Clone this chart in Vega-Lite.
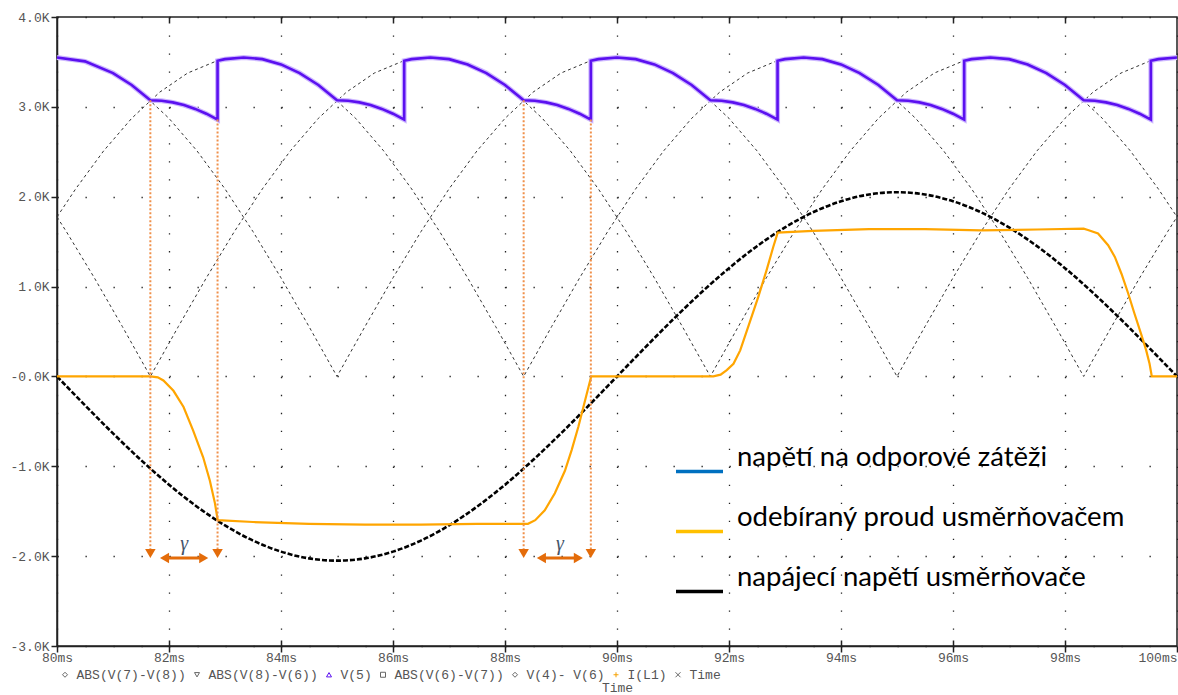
{
  "$schema": "https://vega.github.io/schema/vega-lite/v6.json",
  "width": 1120,
  "height": 629,
  "autosize": {"type": "none"},
  "padding": {"left": 57, "top": 17, "right": 1, "bottom": 49},
  "background": "white",
  "config": {
    "view": {"stroke": "#222", "strokeWidth": 1.5},
    "axis": {"domainColor": "#222", "tickColor": "#222"}
  },
  "resolve": {
    "scale": {"color": "independent", "shape": "independent"},
    "axis": {"x": "independent", "y": "independent"}
  },
  "datasets": {
    "supply": [
      {"t": 80, "v": 0}, {"t": 80.5, "v": -0.3207}, {"t": 81, "v": -0.6335}, {"t": 81.5, "v": -0.9307},
      {"t": 82, "v": -1.205}, {"t": 82.5, "v": -1.4496}, {"t": 83, "v": -1.6585}, {"t": 83.5, "v": -1.8266},
      {"t": 84, "v": -1.9497}, {"t": 84.5, "v": -2.0248}, {"t": 85, "v": -2.05}, {"t": 85.5, "v": -2.0248},
      {"t": 86, "v": -1.9497}, {"t": 86.5, "v": -1.8266}, {"t": 87, "v": -1.6585}, {"t": 87.5, "v": -1.4496},
      {"t": 88, "v": -1.205}, {"t": 88.5, "v": -0.9307}, {"t": 89, "v": -0.6335}, {"t": 89.5, "v": -0.3207},
      {"t": 90, "v": 0}, {"t": 90.5, "v": 0.3207}, {"t": 91, "v": 0.6335}, {"t": 91.5, "v": 0.9307},
      {"t": 92, "v": 1.205}, {"t": 92.5, "v": 1.4496}, {"t": 93, "v": 1.6585}, {"t": 93.5, "v": 1.8266},
      {"t": 94, "v": 1.9497}, {"t": 94.5, "v": 2.0248}, {"t": 95, "v": 2.05}, {"t": 95.5, "v": 2.0248},
      {"t": 96, "v": 1.9497}, {"t": 96.5, "v": 1.8266}, {"t": 97, "v": 1.6585}, {"t": 97.5, "v": 1.4496},
      {"t": 98, "v": 1.205}, {"t": 98.5, "v": 0.9307}, {"t": 99, "v": 0.6335}, {"t": 99.5, "v": 0.3207},
      {"t": 100, "v": 0}
    ],
    "phases": [
      {"s": "a", "t": 80, "v": 3.55}, {"s": "a", "t": 80.5, "v": 3.5063}, {"s": "a", "t": 81, "v": 3.3763}, {"s": "a", "t": 81.5, "v": 3.1631},
      {"s": "a", "t": 82, "v": 2.872}, {"s": "a", "t": 82.5, "v": 2.5102}, {"s": "a", "t": 83, "v": 2.0867}, {"s": "a", "t": 83.5, "v": 1.6117},
      {"s": "a", "t": 84, "v": 1.097}, {"s": "a", "t": 84.5, "v": 0.5553}, {"s": "a", "t": 85, "v": 0}, {"s": "a", "t": 85.5, "v": 0.5553},
      {"s": "a", "t": 86, "v": 1.097}, {"s": "a", "t": 86.5, "v": 1.6117}, {"s": "a", "t": 87, "v": 2.0867}, {"s": "a", "t": 87.5, "v": 2.5102},
      {"s": "a", "t": 88, "v": 2.872}, {"s": "a", "t": 88.5, "v": 3.1631}, {"s": "a", "t": 89, "v": 3.3763}, {"s": "a", "t": 89.5, "v": 3.5063},
      {"s": "a", "t": 90, "v": 3.55}, {"s": "a", "t": 90.5, "v": 3.5063}, {"s": "a", "t": 91, "v": 3.3763}, {"s": "a", "t": 91.5, "v": 3.1631},
      {"s": "a", "t": 92, "v": 2.872}, {"s": "a", "t": 92.5, "v": 2.5102}, {"s": "a", "t": 93, "v": 2.0867}, {"s": "a", "t": 93.5, "v": 1.6117},
      {"s": "a", "t": 94, "v": 1.097}, {"s": "a", "t": 94.5, "v": 0.5553}, {"s": "a", "t": 95, "v": 0}, {"s": "a", "t": 95.5, "v": 0.5553},
      {"s": "a", "t": 96, "v": 1.097}, {"s": "a", "t": 96.5, "v": 1.6117}, {"s": "a", "t": 97, "v": 2.0867}, {"s": "a", "t": 97.5, "v": 2.5102},
      {"s": "a", "t": 98, "v": 2.872}, {"s": "a", "t": 98.5, "v": 3.1631}, {"s": "a", "t": 99, "v": 3.3763}, {"s": "a", "t": 99.5, "v": 3.5063},
      {"s": "a", "t": 100, "v": 3.55},
      {"s": "b", "t": 80, "v": 1.775}, {"s": "b", "t": 80.167, "v": 1.6117}, {"s": "b", "t": 80.667, "v": 1.097}, {"s": "b", "t": 81.167, "v": 0.5553},
      {"s": "b", "t": 81.667, "v": 0}, {"s": "b", "t": 82.167, "v": 0.5553}, {"s": "b", "t": 82.667, "v": 1.097}, {"s": "b", "t": 83.167, "v": 1.6117},
      {"s": "b", "t": 83.667, "v": 2.0867}, {"s": "b", "t": 84.167, "v": 2.5102}, {"s": "b", "t": 84.667, "v": 2.872}, {"s": "b", "t": 85.167, "v": 3.1631},
      {"s": "b", "t": 85.667, "v": 3.3763}, {"s": "b", "t": 86.167, "v": 3.5063}, {"s": "b", "t": 86.667, "v": 3.55}, {"s": "b", "t": 87.167, "v": 3.5063},
      {"s": "b", "t": 87.667, "v": 3.3763}, {"s": "b", "t": 88.167, "v": 3.1631}, {"s": "b", "t": 88.667, "v": 2.872}, {"s": "b", "t": 89.167, "v": 2.5102},
      {"s": "b", "t": 89.667, "v": 2.0867}, {"s": "b", "t": 90.167, "v": 1.6117}, {"s": "b", "t": 90.667, "v": 1.097}, {"s": "b", "t": 91.167, "v": 0.5553},
      {"s": "b", "t": 91.667, "v": 0}, {"s": "b", "t": 92.167, "v": 0.5553}, {"s": "b", "t": 92.667, "v": 1.097}, {"s": "b", "t": 93.167, "v": 1.6117},
      {"s": "b", "t": 93.667, "v": 2.0867}, {"s": "b", "t": 94.167, "v": 2.5102}, {"s": "b", "t": 94.667, "v": 2.872}, {"s": "b", "t": 95.167, "v": 3.1631},
      {"s": "b", "t": 95.667, "v": 3.3763}, {"s": "b", "t": 96.167, "v": 3.5063}, {"s": "b", "t": 96.667, "v": 3.55}, {"s": "b", "t": 97.167, "v": 3.5063},
      {"s": "b", "t": 97.667, "v": 3.3763}, {"s": "b", "t": 98.167, "v": 3.1631}, {"s": "b", "t": 98.667, "v": 2.872}, {"s": "b", "t": 99.167, "v": 2.5102},
      {"s": "b", "t": 99.667, "v": 2.0867}, {"s": "b", "t": 100, "v": 1.775},
      {"s": "c", "t": 80, "v": 1.775}, {"s": "c", "t": 80.333, "v": 2.0867}, {"s": "c", "t": 80.833, "v": 2.5102}, {"s": "c", "t": 81.333, "v": 2.872},
      {"s": "c", "t": 81.833, "v": 3.1631}, {"s": "c", "t": 82.333, "v": 3.3763}, {"s": "c", "t": 82.833, "v": 3.5063}, {"s": "c", "t": 83.333, "v": 3.55},
      {"s": "c", "t": 83.833, "v": 3.5063}, {"s": "c", "t": 84.333, "v": 3.3763}, {"s": "c", "t": 84.833, "v": 3.1631}, {"s": "c", "t": 85.333, "v": 2.872},
      {"s": "c", "t": 85.833, "v": 2.5102}, {"s": "c", "t": 86.333, "v": 2.0867}, {"s": "c", "t": 86.833, "v": 1.6117}, {"s": "c", "t": 87.333, "v": 1.097},
      {"s": "c", "t": 87.833, "v": 0.5553}, {"s": "c", "t": 88.333, "v": 0}, {"s": "c", "t": 88.833, "v": 0.5553}, {"s": "c", "t": 89.333, "v": 1.097},
      {"s": "c", "t": 89.833, "v": 1.6117}, {"s": "c", "t": 90.333, "v": 2.0867}, {"s": "c", "t": 90.833, "v": 2.5102}, {"s": "c", "t": 91.333, "v": 2.872},
      {"s": "c", "t": 91.833, "v": 3.1631}, {"s": "c", "t": 92.333, "v": 3.3763}, {"s": "c", "t": 92.833, "v": 3.5063}, {"s": "c", "t": 93.333, "v": 3.55},
      {"s": "c", "t": 93.833, "v": 3.5063}, {"s": "c", "t": 94.333, "v": 3.3763}, {"s": "c", "t": 94.833, "v": 3.1631}, {"s": "c", "t": 95.333, "v": 2.872},
      {"s": "c", "t": 95.833, "v": 2.5102}, {"s": "c", "t": 96.333, "v": 2.0867}, {"s": "c", "t": 96.833, "v": 1.6117}, {"s": "c", "t": 97.333, "v": 1.097},
      {"s": "c", "t": 97.833, "v": 0.5553}, {"s": "c", "t": 98.333, "v": 0}, {"s": "c", "t": 98.833, "v": 0.5553}, {"s": "c", "t": 99.333, "v": 1.097},
      {"s": "c", "t": 99.833, "v": 1.6117}, {"s": "c", "t": 100, "v": 1.775}
    ],
    "load": [
      {"i": 0, "t": 80, "v": 3.55}, {"i": 1, "t": 80.5, "v": 3.5063}, {"i": 2, "t": 81, "v": 3.3763}, {"i": 3, "t": 81.333, "v": 3.2431}, {"i": 4, "t": 81.667, "v": 3.074},
      {"i": 5, "t": 81.867, "v": 3.068}, {"i": 6, "t": 82.067, "v": 3.05}, {"i": 7, "t": 82.267, "v": 3.02}, {"i": 8, "t": 82.467, "v": 2.977}, {"i": 9, "t": 82.667, "v": 2.924},
      {"i": 10, "t": 82.867, "v": 2.858}, {"i": 11, "t": 82.867, "v": 3.512}, {"i": 12, "t": 83.0, "v": 3.531}, {"i": 13, "t": 83.333, "v": 3.55}, {"i": 14, "t": 83.667, "v": 3.531},
      {"i": 15, "t": 84.0, "v": 3.472}, {"i": 16, "t": 84.333, "v": 3.376}, {"i": 17, "t": 84.667, "v": 3.243}, {"i": 18, "t": 85.0, "v": 3.074},
      {"i": 19, "t": 85.2, "v": 3.068}, {"i": 20, "t": 85.4, "v": 3.05}, {"i": 21, "t": 85.6, "v": 3.02}, {"i": 22, "t": 85.8, "v": 2.977}, {"i": 23, "t": 86.0, "v": 2.924},
      {"i": 24, "t": 86.2, "v": 2.858}, {"i": 25, "t": 86.2, "v": 3.512}, {"i": 26, "t": 86.333, "v": 3.531}, {"i": 27, "t": 86.667, "v": 3.55}, {"i": 28, "t": 87.0, "v": 3.531},
      {"i": 29, "t": 87.333, "v": 3.472}, {"i": 30, "t": 87.667, "v": 3.376}, {"i": 31, "t": 88.0, "v": 3.243}, {"i": 32, "t": 88.333, "v": 3.074},
      {"i": 33, "t": 88.533, "v": 3.068}, {"i": 34, "t": 88.733, "v": 3.05}, {"i": 35, "t": 88.933, "v": 3.02}, {"i": 36, "t": 89.133, "v": 2.977}, {"i": 37, "t": 89.333, "v": 2.924},
      {"i": 38, "t": 89.533, "v": 2.858}, {"i": 39, "t": 89.533, "v": 3.512}, {"i": 40, "t": 89.667, "v": 3.531}, {"i": 41, "t": 90.0, "v": 3.55}, {"i": 42, "t": 90.333, "v": 3.531},
      {"i": 43, "t": 90.667, "v": 3.472}, {"i": 44, "t": 91.0, "v": 3.376}, {"i": 45, "t": 91.333, "v": 3.243}, {"i": 46, "t": 91.667, "v": 3.074},
      {"i": 47, "t": 91.867, "v": 3.068}, {"i": 48, "t": 92.067, "v": 3.05}, {"i": 49, "t": 92.267, "v": 3.02}, {"i": 50, "t": 92.467, "v": 2.977}, {"i": 51, "t": 92.667, "v": 2.924},
      {"i": 52, "t": 92.867, "v": 2.858}, {"i": 53, "t": 92.867, "v": 3.512}, {"i": 54, "t": 93.0, "v": 3.531}, {"i": 55, "t": 93.333, "v": 3.55}, {"i": 56, "t": 93.667, "v": 3.531},
      {"i": 57, "t": 94.0, "v": 3.472}, {"i": 58, "t": 94.333, "v": 3.376}, {"i": 59, "t": 94.667, "v": 3.243}, {"i": 60, "t": 95.0, "v": 3.074},
      {"i": 61, "t": 95.2, "v": 3.068}, {"i": 62, "t": 95.4, "v": 3.05}, {"i": 63, "t": 95.6, "v": 3.02}, {"i": 64, "t": 95.8, "v": 2.977}, {"i": 65, "t": 96.0, "v": 2.924},
      {"i": 66, "t": 96.2, "v": 2.858}, {"i": 67, "t": 96.2, "v": 3.512}, {"i": 68, "t": 96.333, "v": 3.531}, {"i": 69, "t": 96.667, "v": 3.55}, {"i": 70, "t": 97.0, "v": 3.531},
      {"i": 71, "t": 97.333, "v": 3.472}, {"i": 72, "t": 97.667, "v": 3.376}, {"i": 73, "t": 98.0, "v": 3.243}, {"i": 74, "t": 98.333, "v": 3.074},
      {"i": 75, "t": 98.533, "v": 3.068}, {"i": 76, "t": 98.733, "v": 3.05}, {"i": 77, "t": 98.933, "v": 3.02}, {"i": 78, "t": 99.133, "v": 2.977}, {"i": 79, "t": 99.333, "v": 2.924},
      {"i": 80, "t": 99.533, "v": 2.858}, {"i": 81, "t": 99.533, "v": 3.512}, {"i": 82, "t": 99.667, "v": 3.531}, {"i": 83, "t": 100.0, "v": 3.55}
    ],
    "current": [
      {"t": 80, "v": 0}, {"t": 81.667, "v": 0}, {"t": 81.8, "v": -0.01}, {"t": 81.9, "v": -0.045}, {"t": 82.08, "v": -0.16},
      {"t": 82.26, "v": -0.34}, {"t": 82.43, "v": -0.6}, {"t": 82.61, "v": -0.9}, {"t": 82.73, "v": -1.16}, {"t": 82.82, "v": -1.41},
      {"t": 82.87, "v": -1.6}, {"t": 83.5, "v": -1.62}, {"t": 84.5, "v": -1.64}, {"t": 85.5, "v": -1.65}, {"t": 86.5, "v": -1.65},
      {"t": 87.5, "v": -1.64}, {"t": 88.41, "v": -1.64}, {"t": 88.54, "v": -1.6}, {"t": 88.71, "v": -1.49}, {"t": 88.89, "v": -1.3},
      {"t": 89.07, "v": -1.05}, {"t": 89.19, "v": -0.82}, {"t": 89.31, "v": -0.56}, {"t": 89.4, "v": -0.34}, {"t": 89.49, "v": -0.12},
      {"t": 89.54, "v": 0}, {"t": 91.72, "v": 0}, {"t": 91.85, "v": 0.02}, {"t": 91.96, "v": 0.07}, {"t": 92.08, "v": 0.14},
      {"t": 92.2, "v": 0.29}, {"t": 92.38, "v": 0.62}, {"t": 92.52, "v": 0.88}, {"t": 92.67, "v": 1.18}, {"t": 92.79, "v": 1.44},
      {"t": 92.87, "v": 1.6}, {"t": 93.5, "v": 1.62}, {"t": 94.5, "v": 1.64}, {"t": 95.5, "v": 1.64}, {"t": 96.5, "v": 1.625},
      {"t": 97.5, "v": 1.635}, {"t": 98.333, "v": 1.645}, {"t": 98.41, "v": 1.63}, {"t": 98.59, "v": 1.59}, {"t": 98.77, "v": 1.46},
      {"t": 98.89, "v": 1.33}, {"t": 99.01, "v": 1.14}, {"t": 99.13, "v": 0.92}, {"t": 99.24, "v": 0.7}, {"t": 99.36, "v": 0.47},
      {"t": 99.45, "v": 0.29}, {"t": 99.51, "v": 0.14}, {"t": 99.55, "v": 0}, {"t": 100, "v": 0}
    ],
    "marks": [
      {"t": 81.667, "top": 3.074, "bot": -1.93, "head": -1.97},
      {"t": 82.867, "top": 2.858, "bot": -1.93, "head": -1.97},
      {"t": 88.333, "top": 3.074, "bot": -1.93, "head": -1.97},
      {"t": 89.533, "top": 2.858, "bot": -1.93, "head": -1.97}
    ],
    "gamma": [
      {"a": 81.92, "b": 82.62, "m": 82.27, "v": -2.02, "lv": -1.87, "txt": "γ"},
      {"a": 88.65, "b": 89.31, "m": 88.98, "v": -2.02, "lv": -1.87, "txt": "γ"}
    ]
  },
  "layer": [
    {
      "data": {"name": "phases"},
      "mark": {"type": "line", "color": "#333", "strokeWidth": 1, "strokeDash": [3, 3]},
      "encoding": {
        "x": {"field": "t", "type": "quantitative", "scale": {"domain": [80, 100], "nice": false, "zero": false},
              "axis": {"orient": "top", "labels": false, "domain": false, "grid": false, "title": null, "tickSize": -6, "tickWidth": 1.5, "values": [82, 84, 86, 88, 90, 92, 94, 96, 98]}},
        "y": {"field": "v", "type": "quantitative", "scale": {"domain": [-3, 4], "nice": false, "zero": false}, "axis": null},
        "detail": {"field": "s"}
      }
    },
    {
      "mark": {"type": "rule", "color": "#444", "strokeWidth": 1.5},
      "encoding": {
        "y": {"datum": 0, "type": "quantitative", "scale": {"domain": [-3, 4], "nice": false, "zero": false}, "axis": null}
      }
    },
    {
      "data": {"name": "supply"},
      "mark": {"type": "line", "color": "#000", "strokeWidth": 2.6, "strokeDash": [5, 2], "interpolate": "monotone"},
      "encoding": {
        "x": {"field": "t", "type": "quantitative", "scale": {"domain": [80, 100], "nice": false, "zero": false},
              "axis": {"orient": "bottom", "values": [80, 82, 84, 86, 88, 90, 92, 94, 96, 98, 100],
                       "labelExpr": "datum.value + 'ms'", "labelFont": "Liberation Mono", "labelFontSize": 13, "labelColor": "#555",
                       "labelAlign": {"condition": {"test": "datum.value == 100", "value": "right"}, "value": "center"},
                       "labelFlush": false, "labelOverlap": false, "labelPadding": -1,
                       "tickSize": 6, "tickWidth": 1.5, "domainWidth": 1.5,
                       "grid": true, "gridColor": "#222", "gridWidth": 1.3, "gridDash": [1.3, 16.67],
                       "title": "Time", "titleFont": "Liberation Mono", "titleFontSize": 13, "titleFontWeight": "normal", "titleColor": "#555", "titlePadding": 17}},
        "y": {"field": "v", "type": "quantitative", "scale": {"domain": [-3, 4], "nice": false, "zero": false},
              "axis": {"orient": "left", "values": [-3, -2, -1, 0, 1, 2, 3, 4],
                       "labelExpr": "(datum.value <= 0 ? '-' : '') + abs(datum.value) + '.0K'",
                       "labelFont": "Liberation Mono", "labelFontSize": 13, "labelColor": "#555", "labelPadding": 2,
                       "tickSize": 6, "tickWidth": 1.5, "domainWidth": 1.5,
                       "grid": true, "gridColor": "#222", "gridWidth": 1.3, "gridDash": [1.3, 26.7], "title": null}}
      }
    },
    {
      "data": {"name": "current"},
      "mark": {"type": "line", "color": "#FFA500", "strokeWidth": 2.2},
      "encoding": {
        "x": {"field": "t", "type": "quantitative", "scale": {"domain": [80, 100], "nice": false, "zero": false}, "axis": null},
        "y": {"field": "v", "type": "quantitative", "scale": {"domain": [-3, 4], "nice": false, "zero": false}, "axis": null}
      }
    },
    {
      "data": {"name": "load"},
      "mark": {"type": "line", "color": "#CDB8FF", "strokeWidth": 5},
      "encoding": {
        "x": {"field": "t", "type": "quantitative", "scale": {"domain": [80, 100], "nice": false, "zero": false},
              "axis": {"orient": "bottom", "labels": false, "domain": false, "grid": false, "title": null, "tickSize": -6, "tickWidth": 1.5, "values": [82, 84, 86, 88, 90, 92, 94, 96, 98]}},
        "y": {"field": "v", "type": "quantitative", "scale": {"domain": [-3, 4], "nice": false, "zero": false}, "axis": null},
        "order": {"field": "i", "type": "quantitative"}
      }
    },
    {
      "data": {"name": "load"},
      "mark": {"type": "line", "color": "#5B10F0", "strokeWidth": 2.6},
      "encoding": {
        "x": {"field": "t", "type": "quantitative", "scale": {"domain": [80, 100], "nice": false, "zero": false}, "axis": null},
        "y": {"field": "v", "type": "quantitative", "scale": {"domain": [-3, 4], "nice": false, "zero": false}, "axis": null},
        "order": {"field": "i", "type": "quantitative"}
      }
    },
    {
      "data": {"name": "marks"},
      "mark": {"type": "rule", "color": "#F0904A", "strokeWidth": 2, "strokeDash": [2, 2]},
      "encoding": {
        "x": {"field": "t", "type": "quantitative", "scale": {"domain": [80, 100], "nice": false, "zero": false}, "axis": null},
        "y": {"field": "top", "type": "quantitative", "scale": {"domain": [-3, 4], "nice": false, "zero": false}, "axis": null},
        "y2": {"field": "bot"}
      }
    },
    {
      "data": {"name": "marks"},
      "mark": {"type": "point", "shape": "triangle-down", "filled": true, "color": "#E46C0A", "size": 110, "opacity": 1},
      "encoding": {
        "x": {"field": "t", "type": "quantitative", "scale": {"domain": [80, 100], "nice": false, "zero": false}, "axis": null},
        "y": {"field": "head", "type": "quantitative", "scale": {"domain": [-3, 4], "nice": false, "zero": false}, "axis": null}
      }
    },
    {
      "data": {"name": "gamma"},
      "mark": {"type": "rule", "color": "#E46C0A", "strokeWidth": 3},
      "encoding": {
        "x": {"field": "a", "type": "quantitative", "scale": {"domain": [80, 100], "nice": false, "zero": false}, "axis": null},
        "x2": {"field": "b"},
        "y": {"field": "v", "type": "quantitative", "scale": {"domain": [-3, 4], "nice": false, "zero": false}, "axis": null}
      }
    },
    {
      "data": {"name": "gamma"},
      "mark": {"type": "point", "shape": "triangle-left", "filled": true, "color": "#E46C0A", "size": 110, "opacity": 1},
      "encoding": {
        "x": {"field": "a", "type": "quantitative", "scale": {"domain": [80, 100], "nice": false, "zero": false}, "axis": null},
        "y": {"field": "v", "type": "quantitative", "scale": {"domain": [-3, 4], "nice": false, "zero": false}, "axis": null}
      }
    },
    {
      "data": {"name": "gamma"},
      "mark": {"type": "point", "shape": "triangle-right", "filled": true, "color": "#E46C0A", "size": 110, "opacity": 1},
      "encoding": {
        "x": {"field": "b", "type": "quantitative", "scale": {"domain": [80, 100], "nice": false, "zero": false}, "axis": null},
        "y": {"field": "v", "type": "quantitative", "scale": {"domain": [-3, 4], "nice": false, "zero": false}, "axis": null}
      }
    },
    {
      "data": {"name": "gamma"},
      "mark": {"type": "text", "font": "Liberation Serif", "fontStyle": "italic", "fontSize": 20, "color": "#44546A", "baseline": "middle", "align": "center"},
      "encoding": {
        "x": {"field": "m", "type": "quantitative", "scale": {"domain": [80, 100], "nice": false, "zero": false}, "axis": null},
        "y": {"field": "lv", "type": "quantitative", "scale": {"domain": [-3, 4], "nice": false, "zero": false}, "axis": null},
        "text": {"field": "txt"}
      }
    },
    {
      "data": {"values": [
        {"label": "napětí na odporové zátěži"},
        {"label": "odebíraný proud usměrňovačem"},
        {"label": "napájecí napětí usměrňovače"}
      ]},
      "mark": {"type": "point", "opacity": 0},
      "encoding": {
        "color": {"field": "label", "type": "nominal",
                  "scale": {"domain": ["napětí na odporové zátěži", "odebíraný proud usměrňovačem", "napájecí napětí usměrňovače"],
                            "range": ["#0070C0", "#FFC000", "#000000"]},
                  "legend": {"title": null, "orient": "none", "legendX": 617, "legendY": 415, "direction": "vertical",
                             "symbolType": "M-1,0.6L1,0.6", "symbolSize": 2209, "symbolStrokeWidth": 3.5,
                             "labelFont": "Lato", "labelFontSize": 27.5, "labelColor": "#000", "labelOffset": 12,
                             "rowPadding": 13, "labelLimit": 700, "padding": 0}}
      }
    },
    {
      "data": {"values": [
        {"trace": "ABS(V(7)-V(8))"}, {"trace": "ABS(V(8)-V(6))"}, {"trace": "V(5)"}, {"trace": "ABS(V(6)-V(7))"},
        {"trace": "V(4)- V(6)"}, {"trace": "I(L1)"}, {"trace": "Time"}
      ]},
      "mark": {"type": "point", "opacity": 0},
      "encoding": {
        "color": {"field": "trace", "type": "nominal",
                  "scale": {"domain": ["ABS(V(7)-V(8))", "ABS(V(8)-V(6))", "V(5)", "ABS(V(6)-V(7))", "V(4)- V(6)", "I(L1)", "Time"],
                            "range": ["#666", "#666", "#5B10F0", "#666", "#666", "#F5A000", "#666"]},
                  "legend": {"title": null, "orient": "none", "legendX": 1.5, "legendY": 651, "direction": "horizontal",
                             "symbolSize": 25, "symbolStrokeWidth": 1,
                             "labelFont": "Liberation Mono", "labelFontSize": 13, "labelColor": "#555", "labelOffset": 5,
                             "columnPadding": 4, "labelLimit": 300, "padding": 0}},
        "shape": {"field": "trace", "type": "nominal",
                  "scale": {"domain": ["ABS(V(7)-V(8))", "ABS(V(8)-V(6))", "V(5)", "ABS(V(6)-V(7))", "V(4)- V(6)", "I(L1)", "Time"],
                            "range": ["diamond", "triangle-down", "triangle-up", "square", "diamond", "M-1,0L1,0M0,-1L0,1", "M-1,-1L1,1M-1,1L1,-1"]}}
      }
    }
  ]
}
